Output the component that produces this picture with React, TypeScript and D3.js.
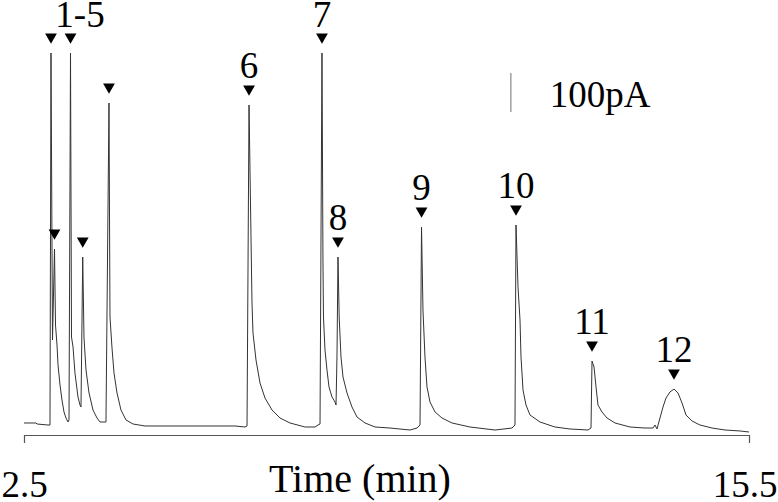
import React, { useEffect, useRef } from 'react';
import * as d3 from 'd3';

// detector trace: [time (min), signal (pA)]
const trace: [number, number][] = [
  [2.5, 30.8], [2.715, 30.8], [2.733, 28.2], [2.93, 25.6], [2.966, 25.6], [2.984, 979.5],
  [3.011, 243.6], [3.047, 476.9], [3.065, 282], [3.092, 230.8], [3.11, 179.5], [3.146, 128.2],
  [3.181, 89.7], [3.217, 59], [3.253, 43.6], [3.289, 33.3], [3.307, 38.5], [3.334, 979.5],
  [3.352, 251.3], [3.379, 225.6], [3.414, 159], [3.468, 97.4], [3.504, 76.9], [3.522, 71.8],
  [3.553, 456.4], [3.576, 248.7], [3.612, 166.7], [3.666, 107.7], [3.737, 64.1], [3.809, 43.6],
  [3.863, 33.3], [3.97, 33.3], [4.024, 851.3], [4.042, 302.6], [4.078, 223.1], [4.114, 159],
  [4.168, 107.7], [4.239, 64.1], [4.329, 38.5], [4.455, 28.2], [4.67, 23.1], [5.656, 23.1],
  [6.284, 23.1], [6.463, 20.5], [6.499, 23.1], [6.535, 846.2], [6.588, 338.5], [6.606, 261.5],
  [6.66, 192.3], [6.732, 133.3], [6.821, 94.9], [6.947, 64.1], [7.09, 43.6], [7.27, 30.8],
  [7.539, 20.5], [7.718, 20.5], [7.772, 25.6], [7.808, 28.2], [7.843, 979.5], [7.861, 441],
  [7.87, 302.6], [7.897, 217.9], [7.933, 166.7], [7.969, 123.1], [8.023, 97.4], [8.077, 84.6],
  [8.095, 76.9], [8.112, 200], [8.13, 456.4], [8.152, 300], [8.184, 200], [8.22, 148.7],
  [8.292, 107.7], [8.381, 71.8], [8.471, 46.2], [8.615, 30.8], [8.794, 20.5], [9.063, 17.9],
  [9.421, 12.8], [9.547, 17.9], [9.601, 25.6], [9.628, 533.3], [9.654, 320.5], [9.69, 200],
  [9.726, 123.1], [9.78, 84.6], [9.87, 59], [9.995, 43.6], [10.175, 30.8], [10.497, 20.5],
  [10.946, 12.8], [11.25, 17.9], [11.304, 25.6], [11.322, 538.5], [11.358, 380], [11.394, 294.9],
  [11.412, 200], [11.448, 115.4], [11.501, 76.9], [11.573, 51.3], [11.752, 33.3], [12.021, 20.5],
  [12.29, 15.4], [12.613, 12.8], [12.667, 17.9], [12.685, 189.7], [12.721, 174.4], [12.757, 123.1],
  [12.792, 76.9], [12.864, 59], [12.954, 43.6], [13.097, 30.8], [13.366, 20.5], [13.635, 17.9],
  [13.779, 17.9], [13.815, 25.6], [13.85, 15.4], [13.904, 43.6], [13.958, 71.8], [14.012, 94.9],
  [14.083, 110.3], [14.155, 117.9], [14.227, 107.7], [14.299, 82.1], [14.37, 51.3], [14.478, 35.9],
  [14.621, 25.6], [14.837, 17.9], [15.07, 12.8], [15.339, 10.3], [15.5, 7.7],
];

// peak apexes (peaks 1..12)
const peakTimes = [2.984, 3.047, 3.334, 3.553, 4.024, 6.535, 7.843, 8.13, 9.628, 11.322, 12.685, 14.155];
const peakHeights = [979.5, 476.9, 979.5, 456.4, 851.3, 846.2, 979.5, 456.4, 533.3, 538.5, 189.7, 117.9];

// peak labels, each covering a range of peak numbers
const labelText = ['1-5', '6', '7', '8', '9', '10', '11', '12'];
const labelFrom = [1, 6, 7, 8, 9, 10, 11, 12];
const labelTo = [5, 6, 7, 8, 9, 10, 11, 12];

const timeTicks = [2.5, 15.5];

// scale bar
const barTime = 11.23;
const barFrom = 828;
const barSize = 100;

const W = 778;
const H = 502;
const FONT = 'Liberation Serif';

export default function App() {
  const ref = useRef<SVGSVGElement>(null);

  useEffect(() => {
    const svg = d3.select(ref.current);
    svg.selectAll('*').remove();

    const x = d3.scaleLinear().domain([2.5, 15.5]).range([24, 749]);
    const y = d3.scaleLinear().domain([0, 100]).range([435, 396]);

    const root = svg.append('g').attr('font-family', FONT).attr('fill', '#000');

    // axis
    const axis = root
      .append('g')
      .attr('transform', `translate(0, ${y(0)})`)
      .call(
        d3.axisBottom(x)
          .tickValues(timeTicks)
          .tickFormat(d3.format('.1f'))
          .tickSizeOuter(8)
          .tickSizeInner(0)
      );
    axis.attr('font-family', FONT).attr('font-size', 37);
    axis.select('.domain').attr('stroke', '#555').attr('stroke-width', 1.2);
    axis.selectAll('.tick line').remove();
    axis
      .selectAll('.tick text')
      .attr('y', 62)
      .attr('dy', null)
      .attr('fill', '#000')
      .attr('text-anchor', (d, i) => (i === 0 ? 'start' : 'end'))
      .attr('dx', (d, i) => (i === 0 ? -23 : 28));

    root
      .append('text')
      .attr('x', 360)
      .attr('y', 492)
      .attr('text-anchor', 'middle')
      .attr('font-size', 40)
      .text('Time (min)');

    // trace
    const line = d3.line<[number, number]>().x(d => x(d[0])).y(d => y(d[1]));
    root
      .append('path')
      .datum(trace)
      .attr('d', line)
      .attr('fill', 'none')
      .attr('stroke', '#333')
      .attr('stroke-width', 1);

    // peak markers
    const tri = d3.symbol().type(d3.symbolTriangle).size(60);
    root
      .selectAll('path.marker')
      .data(peakTimes)
      .enter()
      .append('path')
      .attr('class', 'marker')
      .attr('d', tri)
      .attr('transform', (d, i) => `translate(${x(d)}, ${y(peakHeights[i]) - 16}) rotate(180)`)
      .attr('fill', '#000');

    // peak labels
    root
      .selectAll('text.label')
      .data(labelText)
      .enter()
      .append('text')
      .attr('class', 'label')
      .attr('x', (d, i) => (x(peakTimes[labelFrom[i] - 1]) + x(peakTimes[labelTo[i] - 1])) / 2)
      .attr('y', (d, i) => {
        const top = d3.max(peakHeights.slice(labelFrom[i] - 1, labelTo[i])) as number;
        return Math.max(y(top) - 27, 27);
      })
      .attr('text-anchor', 'middle')
      .attr('font-size', 37)
      .text(d => d);

    // scale bar
    root
      .append('line')
      .attr('x1', x(barTime))
      .attr('x2', x(barTime))
      .attr('y1', y(barFrom))
      .attr('y2', y(barFrom + barSize))
      .attr('stroke', '#888')
      .attr('stroke-width', 1.2);
    root
      .append('text')
      .attr('x', x(barTime) + 39)
      .attr('y', y(barFrom) - 5)
      .attr('font-size', 37)
      .text(`${barSize}pA`);
  }, []);

  return (
    <svg
      ref={ref}
      width={W}
      height={H}
      style={{ position: 'absolute', left: 0, top: 0, background: '#fff' }}
    />
  );
}
